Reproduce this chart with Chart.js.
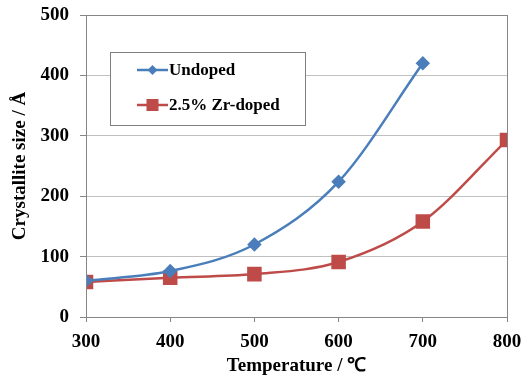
<!DOCTYPE html>
<html>
<head>
<meta charset="utf-8">
<script src="https://cdn.jsdelivr.net/npm/chart.js@4"></script>
<style>
  html, body { margin: 0; padding: 0; background: #fff; }
  #wrap { width: 521px; height: 379px; }
</style>
</head>
<body>
<div id="wrap"><canvas id="c" width="521" height="379"></canvas></div>
<script>
const temps = [300, 400, 500, 600, 700, 800];
const undoped = [60, 76, 120, 224, 420];
const zrDoped = [58, 65, 71, 91, 158, 293];
const seriesNames = ['Undoped', '2.5% Zr-doped'];
const xTitle = 'Temperature / \u2103';
const yTitle = 'Crystallite size / \u212B';

const BLUE = '#4a7ebb';
const RED = '#be4b48';
const AXIS = '#868686';
const FONT = '"Liberation Serif", "Times New Roman", serif';

const toPoints = vals => vals.map((v, i) => ({ x: temps[i], y: v }));

// plot frame (top + right sides too)
const framePlugin = {
  id: 'frame',
  afterDraw(chart) {
    const { ctx, chartArea: a } = chart;
    ctx.save();
    ctx.strokeStyle = AXIS;
    ctx.lineWidth = 1;
    ctx.strokeRect(Math.round(a.left) + 0.5, Math.round(a.top) + 0.5,
                   Math.round(a.right - a.left), Math.round(a.bottom - a.top));
    ctx.restore();
  }
};

// legend box inside plot area
const legendBox = {
  id: 'legendBox',
  afterDraw(chart) {
    const { ctx } = chart;
    const x0 = 110, y0 = 52, w = 195, h = 73;
    ctx.save();
    ctx.fillStyle = '#fff';
    ctx.fillRect(x0, y0, w, h);
    ctx.strokeStyle = '#7f7f7f';
    ctx.lineWidth = 1;
    ctx.strokeRect(x0 + 0.5, y0 + 0.5, w, h);
    chart.data.datasets.forEach((ds, i) => {
      const cy = y0 + 18 + i * 35;
      ctx.strokeStyle = ds.borderColor;
      ctx.lineWidth = 2.5;
      ctx.beginPath();
      ctx.moveTo(137, cy);
      ctx.lineTo(168, cy);
      ctx.stroke();
      ctx.fillStyle = ds.pointBackgroundColor;
      if (ds.pointStyle === 'rectRot') {
        ctx.beginPath();
        ctx.moveTo(152.5, cy - 5);
        ctx.lineTo(157.5, cy);
        ctx.lineTo(152.5, cy + 5);
        ctx.lineTo(147.5, cy);
        ctx.closePath();
        ctx.fill();
      } else {
        ctx.fillRect(146.5, cy - 6, 12, 12);
      }
      ctx.fillStyle = '#000';
      ctx.font = 'bold 17px ' + FONT;
      ctx.textBaseline = 'middle';
      ctx.fillText(ds.label, 169, cy + 1);
    });
    ctx.restore();
  }
};

new Chart(document.getElementById('c'), {
  type: 'line',
  data: {
    datasets: [
      {
        label: seriesNames[0],
        data: toPoints(undoped),
        borderColor: BLUE,
        backgroundColor: BLUE,
        pointBackgroundColor: BLUE,
        pointBorderColor: BLUE,
        pointStyle: 'rectRot',
        pointRadius: 5.5,
        borderWidth: 2.5,
        tension: 0.4,
        cubicInterpolationMode: 'monotone'
      },
      {
        label: seriesNames[1],
        data: toPoints(zrDoped),
        borderColor: RED,
        backgroundColor: RED,
        pointBackgroundColor: RED,
        pointBorderColor: RED,
        pointStyle: 'rect',
        pointRadius: 8.5,
        borderWidth: 2.5,
        tension: 0.4,
        cubicInterpolationMode: 'monotone'
      }
    ]
  },
  options: {
    responsive: false,
    animation: false,
    layout: { padding: { left: 0, right: 14, top: 15, bottom: 0 } },
    plugins: {
      legend: { display: false },
      tooltip: { enabled: false }
    },
    scales: {
      x: {
        type: 'linear',
        min: 300,
        max: 800,
        afterFit(scale) {
          scale.height = 62;
          scale.paddingLeft = 0;
          scale.paddingRight = 0;
        },
        ticks: {
          stepSize: 100,
          color: '#000',
          padding: 9,
          font: { family: FONT, size: 19, weight: 'bold' }
        },
        grid: { drawOnChartArea: false, drawTicks: true, tickLength: 5, color: AXIS },
        border: { color: AXIS },
        title: {
          display: true,
          text: xTitle,
          color: '#000',
          padding: { top: 0, bottom: 2 },
          font: { family: FONT, size: 19, weight: 'bold' }
        }
      },
      y: {
        min: 0,
        max: 500,
        afterFit(scale) {
          scale.width = 86;
          scale.paddingTop = 0;
          scale.paddingBottom = 0;
        },
        ticks: {
          stepSize: 100,
          color: '#000',
          padding: 11,
          font: { family: FONT, size: 19, weight: 'bold' }
        },
        grid: { color: '#c0c0c0', tickColor: AXIS, tickLength: 6 },
        border: { color: AXIS },
        title: {
          display: true,
          text: yTitle,
          color: '#000',
          padding: { top: 9, bottom: 0 },
          font: { family: FONT, size: 19, weight: 'bold' }
        }
      }
    }
  },
  plugins: [framePlugin, legendBox]
});
</script>
</body>
</html>
